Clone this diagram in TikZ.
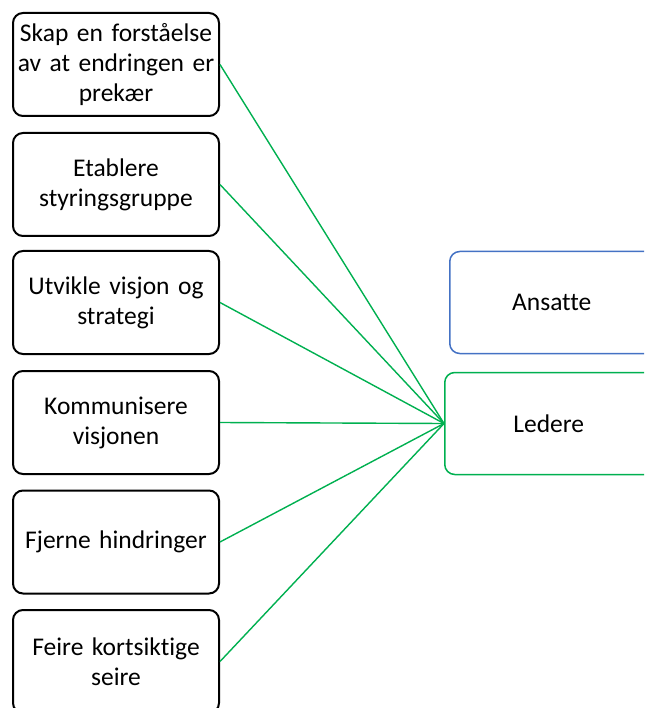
\documentclass[tikz,border=0pt]{standalone}
\usepackage{fontspec}
\setmainfont{Carlito}[Ligatures={NoCommon}]
\definecolor{lgreen}{RGB}{0,176,80}
\definecolor{lblue}{RGB}{68,114,196}
\tikzset{
  leftbox/.style={draw=black, line width=2pt, rounded corners=10pt, minimum width=206pt, minimum height=103pt, text width=202pt, align=center, font=\fontsize{25.5}{30}\selectfont, inner sep=2pt},
  rightbox/.style={rounded corners=10pt, line width=1.5pt, minimum height=102pt, font=\fontsize{25.5}{30}\selectfont, inner sep=2pt, anchor=west},
  link/.style={draw=lgreen, line width=1.4pt}
}
\begin{document}
\begin{tikzpicture}[x=1pt,y=1pt]
\useasboundingbox (0,0) rectangle (644,-708);
\clip (0,0) rectangle (644,-708);
\node[leftbox] (b1) at (116,-64.5) {Skap en forståelse\\av at endringen er\\prekær};
\node[leftbox] (b2) at (116,-184.5) {Etablere\\styringsgruppe};
\node[leftbox] (b3) at (116,-302.5) {Utvikle visjon og\\strategi};
\node[leftbox] (b4) at (116,-422.5) {Kommunisere\\visjonen};
\node[leftbox] (b5) at (116,-542) {Fjerne hindringer};
\node[leftbox] (b6) at (116,-661.5) {Feire kortsiktige\\seire};
\node[rightbox, draw=lblue, minimum width=230pt] (ans) at (449,-302.5) {\hspace*{-26pt}Ansatte};
\node[rightbox, draw=lgreen, minimum width=230pt] (led) at (444,-423.5) {\hspace*{-22pt}Ledere};
\foreach \b in {b1,b2,b3,b4,b5,b6} \draw[link] (\b.east) -- (led.west);
\end{tikzpicture}
\end{document}
